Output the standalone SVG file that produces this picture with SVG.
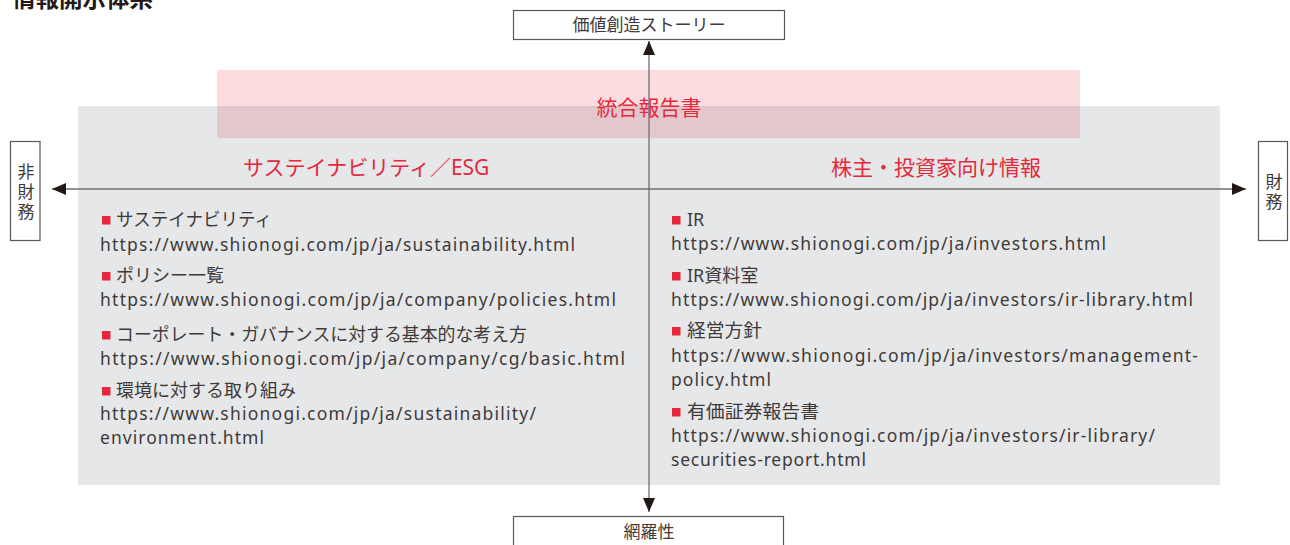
<svg xmlns="http://www.w3.org/2000/svg" width="1290" height="545" viewBox="0 0 1290 545">
<style>
text{font-family:"Noto Sans","Noto Sans CJK JP",sans-serif;fill:#3e3a39}
.lbl{font-size:17px}
.hd{font-size:18px}
.url{font-size:17.5px}
.vt{font-size:17px;writing-mode:vertical-rl;letter-spacing:3px;text-anchor:middle}
.box{fill:#fff;stroke:#595757;stroke-width:1.2}
.red{fill:#e5283c;font-size:21px}
.axis{stroke:#6f6f6f;stroke-width:1.3;fill:none}
.bul{fill:#e5283c}
.mid{text-anchor:middle}
</style>
<defs>
<marker id="ah" viewBox="0 0 14 12" refX="14" refY="6" markerWidth="14" markerHeight="12" markerUnits="userSpaceOnUse" orient="auto-start-reverse">
<path d="M0,0 L14,6 L0,12 z" fill="#231815"/>
</marker>
</defs>
<rect width="1290" height="545" fill="#fff"/>
<g id="title"><text x="12" y="7" style="font-size:23.5px;font-weight:bold;fill:#231815">情報開示体系</text></g>
<g id="panel">
<rect x="78" y="106" width="1142" height="379" fill="#e6e7e8"/>
</g>
<g id="integrated-report">
<rect x="217" y="70" width="863" height="36" fill="#fbdde0"/>
<rect x="217" y="106" width="863" height="32" fill="#e2c8cc"/>
<text class="red mid" x="649" y="115">統合報告書</text>
</g>
<g id="connectors">
<line class="axis" x1="649" y1="41" x2="649" y2="512" marker-start="url(#ah)" marker-end="url(#ah)"/>
<line class="axis" x1="52" y1="189" x2="1246" y2="189" marker-start="url(#ah)" marker-end="url(#ah)"/>
</g>
<g id="top-box">
<rect class="box" x="513.5" y="10.5" width="271" height="29"/>
<text class="lbl mid" x="649" y="31">価値創造ストーリー</text>
</g>
<g id="bottom-box">
<rect class="box" x="513.5" y="516.5" width="270" height="40"/>
<text class="lbl mid" x="649" y="538">網羅性</text>
</g>
<g id="left-box">
<rect class="box" x="10.5" y="141.5" width="29.5" height="99"/>
<text class="vt" x="25" y="193.5">非財務</text>
</g>
<g id="right-box">
<rect class="box" x="1258.5" y="141.5" width="29" height="99"/>
<text class="vt" x="1273" y="193.5">財務</text>
</g>
<g id="left-column">
<text class="red" x="243" y="175">サステイナビリティ／ESG</text>
<rect class="bul" x="102" y="216" width="8.5" height="8.5"/>
<text class="hd" x="116" y="226" textLength="156" lengthAdjust="spacingAndGlyphs">サステイナビリティ</text>
<text class="url" x="100" y="251" textLength="475" lengthAdjust="spacing">https://www.shionogi.com/jp/ja/sustainability.html</text>
<rect class="bul" x="102" y="272" width="8.5" height="8.5"/>
<text class="hd" x="116" y="282">ポリシー一覧</text>
<text class="url" x="100" y="306" textLength="516" lengthAdjust="spacing">https://www.shionogi.com/jp/ja/company/policies.html</text>
<rect class="bul" x="102" y="331" width="8.5" height="8.5"/>
<text class="hd" x="116" y="341" textLength="411" lengthAdjust="spacingAndGlyphs">コーポレート・ガバナンスに対する基本的な考え方</text>
<text class="url" x="100" y="365" textLength="525" lengthAdjust="spacing">https://www.shionogi.com/jp/ja/company/cg/basic.html</text>
<rect class="bul" x="102" y="387" width="8.5" height="8.5"/>
<text class="hd" x="116" y="397">環境に対する取り組み</text>
<text class="url" x="100" y="420" textLength="436" lengthAdjust="spacing">https://www.shionogi.com/jp/ja/sustainability/</text>
<text class="url" x="100" y="444" textLength="164" lengthAdjust="spacing">environment.html</text>
</g>
<g id="right-column">
<text class="red" x="831" y="175">株主・投資家向け情報</text>
<rect class="bul" x="672" y="216" width="8.5" height="8.5"/>
<text class="hd" x="687" y="226">IR</text>
<text class="url" x="671" y="250" textLength="435" lengthAdjust="spacing">https://www.shionogi.com/jp/ja/investors.html</text>
<rect class="bul" x="672" y="272" width="8.5" height="8.5"/>
<text class="hd" x="687" y="282">IR資料室</text>
<text class="url" x="671" y="306" textLength="522" lengthAdjust="spacing">https://www.shionogi.com/jp/ja/investors/ir-library.html</text>
<rect class="bul" x="672" y="327" width="8.5" height="8.5"/>
<text class="hd" x="687" y="337" textLength="75" lengthAdjust="spacingAndGlyphs">経営方針</text>
<text class="url" x="671" y="362" textLength="527" lengthAdjust="spacing">https://www.shionogi.com/jp/ja/investors/management-</text>
<text class="url" x="671" y="386" textLength="100" lengthAdjust="spacing">policy.html</text>
<rect class="bul" x="672" y="408" width="8.5" height="8.5"/>
<text class="hd" x="687" y="418" textLength="132" lengthAdjust="spacingAndGlyphs">有価証券報告書</text>
<text class="url" x="671" y="442" textLength="484" lengthAdjust="spacing">https://www.shionogi.com/jp/ja/investors/ir-library/</text>
<text class="url" x="671" y="466" textLength="195" lengthAdjust="spacing">securities-report.html</text>
</g>
</svg>
